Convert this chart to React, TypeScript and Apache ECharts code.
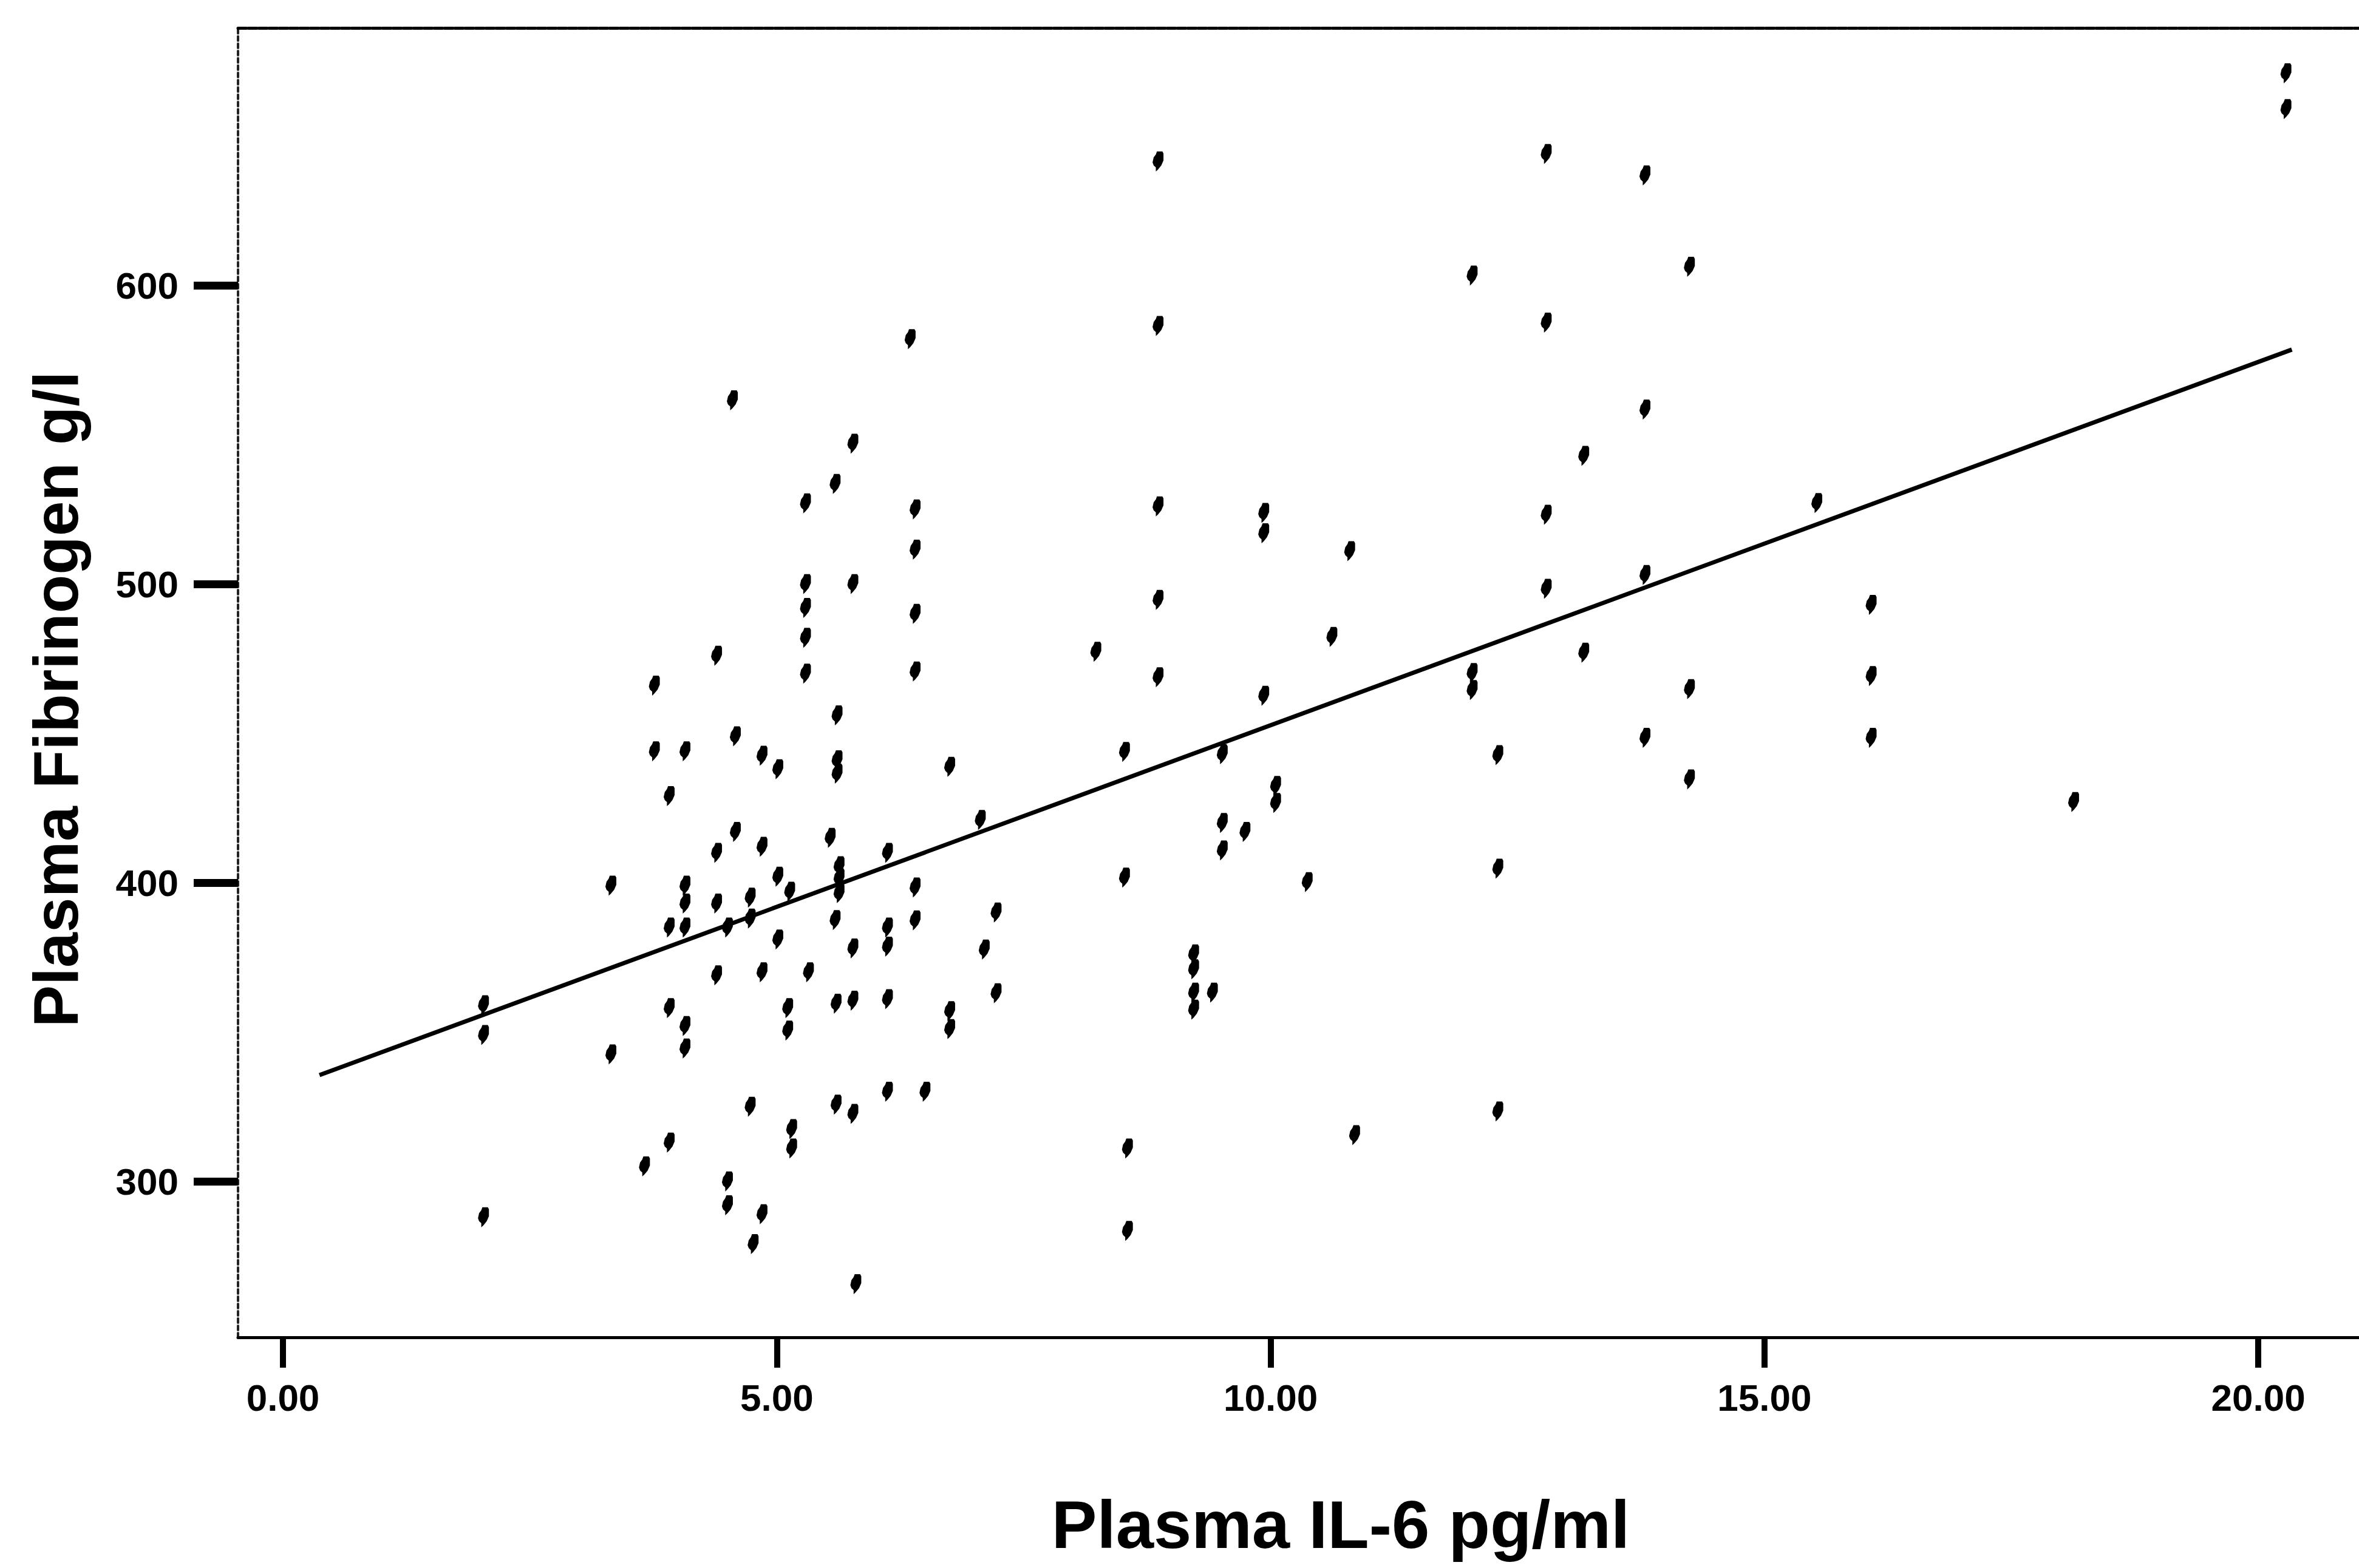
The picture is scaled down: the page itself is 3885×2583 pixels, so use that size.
import React, { useEffect, useRef } from "react";
import * as echarts from "echarts";

// Plasma IL-6 (pg/ml) for every subject, paired index-by-index with fibrinogen
const il6: number[] = [
  2.03, 2.03, 2.03,
  3.32, 3.32,
  3.66,
  3.76, 3.76,
  3.91, 3.91, 3.91, 3.91,
  4.07, 4.07, 4.07, 4.07, 4.07, 4.07,
  4.39, 4.39, 4.39, 4.39,
  4.5, 4.5, 4.5,
  4.55,
  4.58, 4.58,
  4.73, 4.73, 4.73,
  4.76,
  4.85, 4.85, 4.85, 4.85,
  5.01, 5.01, 5.01,
  5.11, 5.11,
  5.13,
  5.15, 5.15,
  5.29, 5.29, 5.29, 5.29, 5.29,
  5.32,
  5.54,
  5.59, 5.59,
  5.6, 5.6,
  5.61, 5.61, 5.61,
  5.63, 5.63, 5.63,
  5.77, 5.77, 5.77, 5.77, 5.77,
  5.8,
  6.12, 6.12, 6.12, 6.12, 6.12,
  6.35,
  6.4, 6.4, 6.4, 6.4, 6.4, 6.4,
  6.5,
  6.75, 6.75, 6.75,
  7.06,
  7.1,
  7.22, 7.22,
  8.23,
  8.52, 8.52,
  8.55, 8.55,
  8.86, 8.86, 8.86, 8.86, 8.86,
  9.22, 9.22, 9.22, 9.22,
  9.41,
  9.51, 9.51, 9.51,
  9.74,
  9.93, 9.93, 9.93,
  10.05, 10.05,
  10.37,
  10.62,
  10.8,
  10.85,
  12.04, 12.04, 12.04,
  12.3, 12.3, 12.3,
  12.79, 12.79, 12.79, 12.79,
  13.17, 13.17,
  13.79, 13.79, 13.79, 13.79,
  14.24, 14.24, 14.24,
  15.53,
  16.08, 16.08, 16.08,
  18.13,
  20.28, 20.28,
];

// Plasma fibrinogen (g/l)
const fibrinogen: number[] = [
  359, 349, 288,
  399, 342.5,
  305,
  466, 444,
  429, 385, 358, 313,
  444, 399, 393, 385, 352, 344.5,
  476, 410, 393, 369,
  385, 300, 292,
  561.5,
  449, 417,
  395, 388, 325,
  279,
  442.5, 412, 370, 289,
  438, 402, 381,
  358, 350.5,
  397,
  317.5, 311,
  527, 500, 492, 482, 470,
  370,
  415,
  533.5, 387.5,
  359.5, 325.7,
  456, 441, 436.5,
  405.5, 401.5, 396.5,
  547, 500, 378, 360.5, 322.6,
  265.6,
  410, 385, 378.6, 361, 330,
  582,
  525, 511.5, 490, 470.7, 398.4, 387.4,
  330,
  438.8, 357, 351,
  421,
  377.6,
  390, 363,
  477.3,
  443.8, 401.7,
  311, 283.4,
  641.5, 586.4, 526, 494.7, 468.8,
  376, 371, 363.2, 357.5,
  363.2,
  443, 420, 410.8,
  417,
  523.8, 517, 462.6,
  432.4, 426.7,
  400.2,
  482.3,
  511,
  315.5,
  603.3, 470.2, 464.5,
  442.7, 404.7, 323.4,
  644, 587.5, 523.2, 498.4,
  542.9, 477,
  636.8, 558.4, 503, 448.5,
  606.2, 464.8, 434.6,
  527.1,
  493, 469.2, 448.5,
  427,
  671, 659,
];

// Fitted regression line end points
const fitIl6: number[] = [0.37, 20.34];
const fitFibrinogen: number[] = [335.6, 578.5];

// Axis ticks and labels
const xTicks: number[] = [0, 5, 10, 15, 20];
const yTicks: number[] = [300, 400, 500, 600];
const xRange: number[] = [-0.455, 21.02];
const yRange: number[] = [247.8, 686.2];
const xTitle = "Plasma IL-6 pg/ml";
const yTitle = "Plasma Fibrinogen g/l";

const MARK =
  "path://M4,0 L9,0 L10,2 L10,9 L8,14 L5,18 L3,20 L3,16 L1,14 L0,11 L1,6 L3,3 Z";

export default function App() {
  const ref = useRef<HTMLDivElement>(null);

  useEffect(() => {
    document.body.style.margin = "0";
    document.body.style.overflow = "hidden";
    const el = ref.current;
    if (!el) return;
    const chart = echarts.init(el, null, { renderer: "svg" });
    const font = "Liberation Sans";

    chart.setOption({
      animation: false,
      backgroundColor: "#ffffff",
      grid: { left: 392, top: 46, right: 0, bottom: 380, containLabel: false },
      xAxis: [
        {
          type: "value",
          gridIndex: 0,
          position: "bottom",
          min: xRange[0],
          max: xRange[1],
          splitLine: { show: false },
          axisLine: { show: true, onZero: false, lineStyle: { color: "#000", width: 5 } },
          axisTick: {
            show: true,
            inside: false,
            customValues: xTicks,
            length: 50,
            lineStyle: { color: "#000", width: 10 },
          },
          axisLabel: {
            show: true,
            customValues: xTicks,
            formatter: (v: number) => v.toFixed(2),
            margin: 68,
            fontSize: 62,
            fontWeight: "bold",
            fontFamily: font,
            color: "#000",
          },
        },
        {
          type: "value",
          gridIndex: 0,
          position: "top",
          min: xRange[0],
          max: xRange[1],
          splitLine: { show: false },
          axisLine: {
            show: true,
            onZero: false,
            lineStyle: { color: "#000", width: 5, type: [14, 3] },
          },
          axisTick: { show: false },
          axisLabel: { show: false },
        },
      ],
      yAxis: {
        type: "value",
        position: "left",
        min: yRange[0],
        max: yRange[1],
        splitLine: { show: false },
        axisLine: {
          show: true,
          onZero: false,
          lineStyle: { color: "#222", width: 4, type: [7, 5] },
        },
        axisTick: {
          show: true,
          inside: false,
          customValues: yTicks,
          length: 73,
          lineStyle: { color: "#000", width: 13 },
        },
        axisLabel: {
          show: true,
          customValues: yTicks,
          formatter: (v: number) => String(v),
          margin: 98,
          fontSize: 62,
          fontWeight: "bold",
          fontFamily: font,
          color: "#000",
        },
      },
      series: [
        {
          type: "scatter",
          xAxisIndex: 0,
          data: il6.map((x, i) => [x, fibrinogen[i]]),
          symbol: MARK,
          symbolSize: [18, 33],
          symbolKeepAspect: false,
          itemStyle: { color: "#000", opacity: 1 },
          z: 3,
        },
        {
          type: "line",
          xAxisIndex: 0,
          data: fitIl6.map((x, i) => [x, fitFibrinogen[i]]),
          symbol: "none",
          lineStyle: { color: "#000", width: 7 },
          z: 4,
        },
      ],
      graphic: [
        {
          type: "text",
          x: 2208,
          y: 2511,
          style: {
            text: xTitle,
            fontSize: 112,
            fontWeight: "bold",
            fontFamily: font,
            fill: "#000",
            textAlign: "center",
            textVerticalAlign: "middle",
          },
        },
        {
          type: "text",
          x: 92,
          y: 1152,
          rotation: Math.PI / 2,
          style: {
            text: yTitle,
            fontSize: 104,
            fontWeight: "bold",
            fontFamily: font,
            fill: "#000",
            textAlign: "center",
            textVerticalAlign: "middle",
          },
        },
      ],
    });

    return () => {
      chart.dispose();
    };
  }, []);

  return <div ref={ref} style={{ width: 3885, height: 2583 }} />;
}
